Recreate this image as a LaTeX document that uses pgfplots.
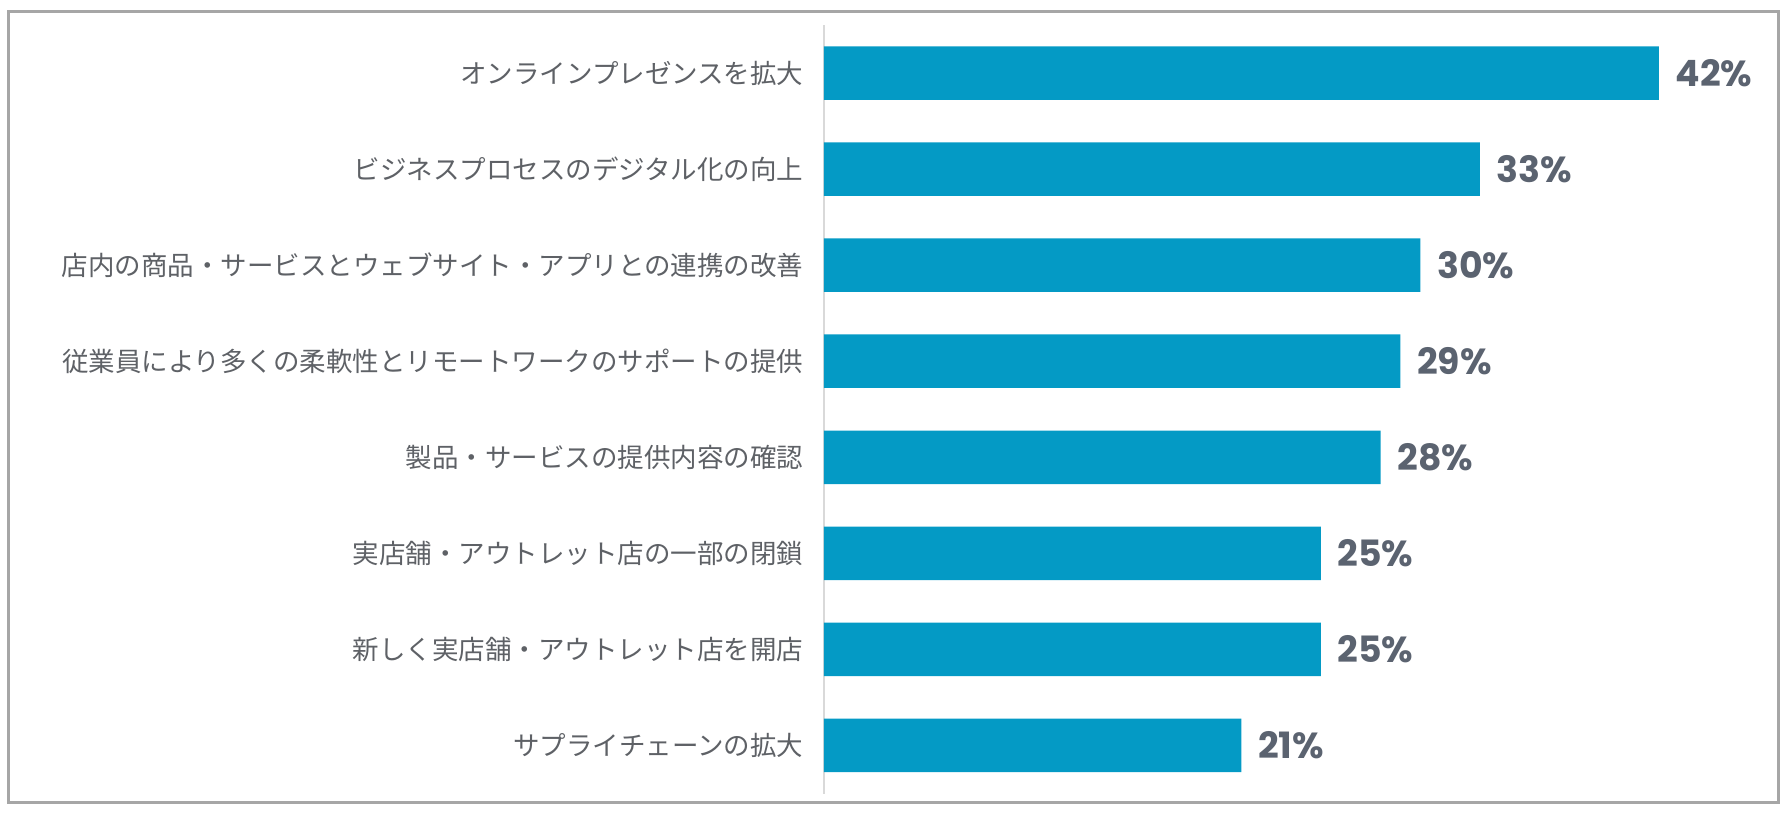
\documentclass[border=0pt]{standalone}
\usepackage{fontspec}
\usepackage{pgfplots}
\pgfplotsset{compat=1.18}
\newfontfamily\jp{Noto Sans CJK JP}
\newfontfamily\num{Poppins}
\definecolor{barblue}{HTML}{049AC5}
\definecolor{lblgray}{HTML}{5E6166}
\definecolor{valgray}{HTML}{5B6370}
\definecolor{framegray}{HTML}{A6A6A6}
\definecolor{axgray}{HTML}{D9D9D9}

\begin{document}
\begin{tikzpicture}
\begin{axis}[
  at={(0,0)}, anchor=south west,
  scale only axis,
  width=357.8pt, height=307.4pt,
  xbar, bar width=0.557,
  xmin=0, xmax=45,
  ymin=-0.5, ymax=7.5, y dir=reverse,
  ytick={0,...,7},
  yticklabels={
    オンラインプレゼンスを拡大,
    ビジネスプロセスのデジタル化の向上,
    店内の商品・サービスとウェブサイト・アプリとの連携の改善,
    従業員により多くの柔軟性とリモートワークのサポートの提供,
    製品・サービスの提供内容の確認,
    実店舗・アウトレット店の一部の閉鎖,
    新しく実店舗・アウトレット店を開店,
    サプライチェーンの拡大},
  yticklabel style={font=\jp\fontsize{10.6pt}{12pt}\selectfont, text=lblgray,
    anchor=east, inner sep=0pt, xshift=-8pt},
  major tick length=0pt,
  xtick=\empty,
  axis x line=none,
  axis y line*=left,
  y axis line style={draw=axgray, line width=0.6pt, -},
  clip=false,
  /pgf/number format/assume math mode=true,
  nodes near coords={\pgfmathprintnumber{\pgfplotspointmeta}\%},
  nodes near coords style={font=\num\bfseries\fontsize{14.5pt}{16pt}\selectfont,
    text=valgray, anchor=west, inner sep=0pt, xshift=6.5pt},
]
\addplot[fill=barblue, draw=none] coordinates {
  (42,0) (33,1) (30,2) (29,3) (28,4) (25,5) (25,6) (21,7)
};
\end{axis}
\draw[framegray, line width=1.2pt] (-326pt,-3.6pt) rectangle (381.6pt,312.8pt);
\pgfresetboundingbox
\path[use as bounding box] (-329.6pt,-7.8pt) rectangle (384.4pt,317.4pt);
\end{tikzpicture}
\end{document}
